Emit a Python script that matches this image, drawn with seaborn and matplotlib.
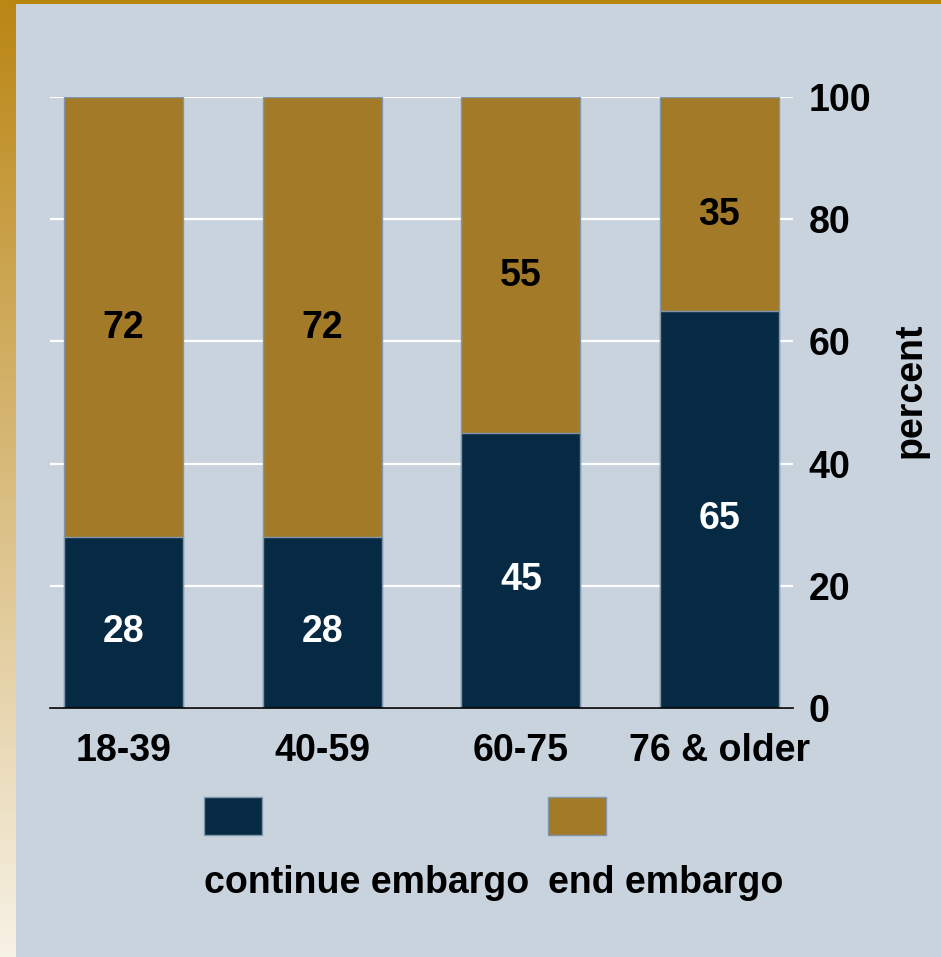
import numpy as np
import pandas as pd
import matplotlib
matplotlib.use("Agg")
import matplotlib.pyplot as plt
from matplotlib.patches import Rectangle
from matplotlib.colors import LinearSegmentedColormap
import seaborn as sns

# ── data ──────────────────────────────────────────────────────────────────────
age_groups = ["18-39", "40-59", "60-75", "76 & older"]
continue_embargo = [28, 28, 45, 65]
end_embargo = [72, 72, 55, 35]
series_names = ["continue embargo", "end embargo"]

# ── style ─────────────────────────────────────────────────────────────────────
BG = "#C8D3DE"
NAVY = "#062A43"
GOLD = "#A37A28"
EDGE = "#8096AC"
FS = 27

sns.set_theme(style="white")
plt.rcParams["font.family"] = ["Liberation Sans", "DejaVu Sans"]
plt.rcParams["font.weight"] = "bold"
plt.rcParams["text.color"] = "black"
plt.rcParams["xtick.color"] = "black"
plt.rcParams["ytick.color"] = "black"
plt.rcParams["axes.labelcolor"] = "black"

df = pd.DataFrame({"age": age_groups,
                   "cont": continue_embargo,
                   "end": end_embargo})
df["total"] = df["cont"] + df["end"]

fig = plt.figure(figsize=(9.41, 9.57), dpi=100, facecolor=BG)

# left gradient strip + top gold strip
strip = fig.add_axes([0, 0, 15 / 941, 1])
cmap = LinearSegmentedColormap.from_list("strip", ["#BA8614", "#F7F2E6"])
strip.imshow(np.linspace(0, 1, 256).reshape(-1, 1), aspect="auto", cmap=cmap)
strip.axis("off")
fig.add_artist(Rectangle((15 / 941, 1 - 4 / 957), 1, 4 / 957,
                         transform=fig.transFigure, color="#B8860B", lw=0))

ax = fig.add_axes([50 / 941, 1 - 708 / 957, 743 / 941, 611 / 957])
ax.set_facecolor(BG)

# stacked bars: total (gold) underneath, continue (navy) on top
sns.barplot(data=df, x="age", y="total", color=GOLD, width=0.6,
            edgecolor=EDGE, linewidth=1, saturation=1, ax=ax, zorder=2)
sns.barplot(data=df, x="age", y="cont", color=NAVY, width=0.6,
            edgecolor=EDGE, linewidth=1, saturation=1, ax=ax, zorder=3)

for i, row in df.iterrows():
    ax.text(i, row["cont"] / 2 - 1.5, f"{row['cont']}", ha="center", va="center",
            color="white", fontsize=FS, fontweight="bold", zorder=4)
    ax.text(i, row["cont"] + row["end"] / 2 - 1.8, f"{row['end']}",
            ha="center", va="center", color="black", fontsize=FS,
            fontweight="bold", zorder=4)

ax.set_xlim(-0.37, 3.37)
ax.set_ylim(0, 100)
ax.set_yticks([0, 20, 40, 60, 80, 100])
ax.yaxis.tick_right()
ax.tick_params(axis="y", length=0, pad=11, labelsize=FS)
ax.tick_params(axis="x", length=0, pad=18, labelsize=FS)
for lbl in ax.get_xticklabels() + ax.get_yticklabels():
    lbl.set_fontweight("bold")
ax.yaxis.grid(True, color="white", lw=1.6, zorder=0)
ax.set_axisbelow(True)

for s in ["top", "left", "right"]:
    ax.spines[s].set_visible(False)
ax.spines["bottom"].set_color("black")
ax.spines["bottom"].set_linewidth(1.2)
ax.spines["bottom"].set_zorder(5)

ax.set_xlabel("")
ax.yaxis.set_label_position("right")
ax.set_ylabel("percent", fontsize=FS, fontweight="bold", rotation=90)
ax.yaxis.set_label_coords(1.134, 0.52)

# legend: swatches above labels
for name, col, x0 in zip(series_names, [NAVY, GOLD], [204, 548]):
    fig.add_artist(Rectangle((x0 / 941, 1 - 835 / 957), 58 / 941, 38 / 957,
                             transform=fig.transFigure, facecolor=col,
                             edgecolor=EDGE, lw=1))
    fig.text(x0 / 941, 1 - 893 / 957, name, ha="left", va="baseline",
             fontsize=FS, fontweight="bold", color="black")

fig.savefig("out.png", dpi=100, facecolor=BG)
